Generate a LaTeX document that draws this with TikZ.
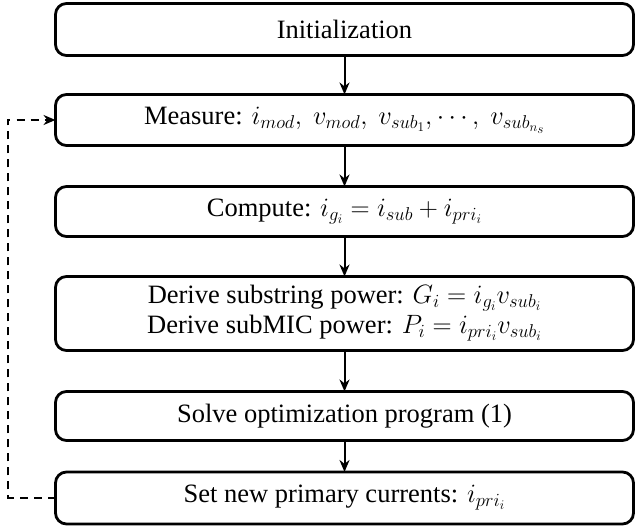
\RequirePackage{fix-cm}
\documentclass[tikz,border=0pt]{standalone}
\usepackage{fontspec}
\setmainfont{Liberation Serif}
\usetikzlibrary{arrows.meta}
\tikzset{
  stepbox/.style={draw, line width=2.8pt, rounded corners=11pt, minimum width=578pt, inner sep=0pt, outer sep=0pt, align=center, font=\fontsize{26.5}{30}\selectfont},
  flow/.style={line width=2pt, -{Stealth[length=12pt,width=10pt]}},
  loop/.style={line width=2pt, dash pattern=on 8pt off 6pt, -{Stealth[length=12pt,width=10pt]}}
}
\begin{document}
\begin{tikzpicture}[x=1pt,y=1pt]
\useasboundingbox (0,0) rectangle (637,529);
\node[stepbox, minimum height=52pt] (b1) at (344.5,499.5) {Initialization};
\node[stepbox, minimum height=51pt] (b2) at (344.5,409) {Measure: $i_{mod},\ v_{mod},\ v_{sub_1},\cdots,\ v_{sub_{n_s}}$};
\node[stepbox, minimum height=50pt] (b3) at (344.5,317.5) {Compute: $i_{g_i}=i_{sub}+i_{pri_i}$};
\node[stepbox, minimum height=74pt] (b4) at (344.5,215.5) {Derive substring power: $G_i=i_{g_i}v_{sub_i}$\\Derive subMIC power: $P_i=i_{pri_i}v_{sub_i}$};
\node[stepbox, minimum height=49pt] (b5) at (344.5,113) {Solve optimization program (1)};
\node[stepbox, minimum height=52pt] (b6) at (344.5,31) {Set new primary currents: $i_{pri_i}$};
\coordinate (lp) at (8,0);
\draw[flow] (b1) -- (b2);
\draw[flow] (b2) -- (b3);
\draw[flow] (b3) -- (b4);
\draw[flow] (b4) -- (b5);
\draw[flow] (b5) -- (b6);
\draw[loop] (b6.west) -- (b6.west -| lp) |- (b2.west);
\end{tikzpicture}
\end{document}
